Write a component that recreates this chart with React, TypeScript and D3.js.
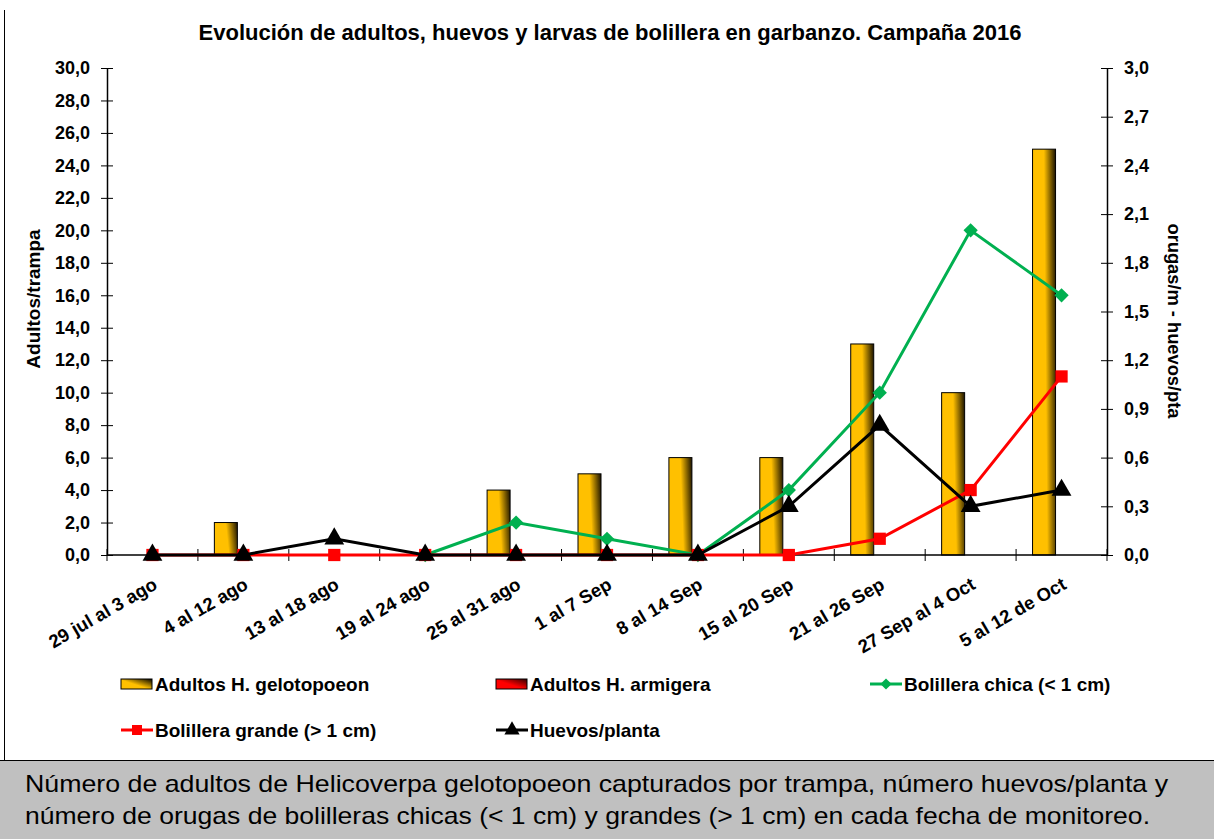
import { useRef, useEffect } from "react";
import * as d3 from "d3";

const categories = [
  "29 jul al 3 ago",
  "4 al 12 ago",
  "13 al 18 ago",
  "19 al 24 ago",
  "25 al 31 ago",
  "1 al 7 Sep",
  "8 al 14 Sep",
  "15 al 20 Sep",
  "21 al 26 Sep",
  "27 Sep al 4 Oct",
  "5 al 12 de Oct",
];

const adultosGelotopoeon = [0, 2, 0, 0, 4, 5, 6, 6, 13, 10, 25];
const adultosArmigera = [0, 0, 0, 0, 0, 0, 0, 0, 0, 0, 0];
const bolilleraChica: (number | null)[] = [null, null, null, 0, 0.2, 0.1, 0, 0.4, 1.0, 2.0, 1.6];
const bolilleraGrande = [0, 0, 0, 0, 0, 0, 0, 0, 0.1, 0.4, 1.1];
const huevosPlanta = [0, 0, 0.1, 0, 0, 0, 0, 0.3, 0.8, 0.3, 0.4];

const leftTicks = d3.range(0, 30.01, 2);
const rightTicks = d3.range(0, 3.01, 0.3);

const width = 1214;
const height = 839;
const font = "'Liberation Sans', Arial, sans-serif";

export default function App() {
  const ref = useRef<SVGSVGElement | null>(null);

  useEffect(() => {
    document.body.style.margin = "0";
    const svg = d3.select(ref.current).attr("width", width).attr("height", height);
    svg.selectAll("*").remove();

    const defs = svg.append("defs");
    const gold = defs.append("linearGradient").attr("id", "gold").attr("x1", 0).attr("y1", 0.15).attr("x2", 1).attr("y2", 0);
    gold.append("stop").attr("offset", "0").attr("stop-color", "#FFC000");
    gold.append("stop").attr("offset", "0.5").attr("stop-color", "#FFC000");
    gold.append("stop").attr("offset", "1").attr("stop-color", "#1a1200");
    const goldLeg = defs.append("linearGradient").attr("id", "goldLeg").attr("x1", 0).attr("y1", 1).attr("x2", 1).attr("y2", 0);
    goldLeg.append("stop").attr("offset", "0").attr("stop-color", "#FFC000");
    goldLeg.append("stop").attr("offset", "0.45").attr("stop-color", "#FFC000");
    goldLeg.append("stop").attr("offset", "1").attr("stop-color", "#000");
    const redLeg = defs.append("linearGradient").attr("id", "redLeg").attr("x1", 0).attr("y1", 1).attr("x2", 1).attr("y2", 0);
    redLeg.append("stop").attr("offset", "0").attr("stop-color", "#FF0000");
    redLeg.append("stop").attr("offset", "0.45").attr("stop-color", "#FF0000");
    redLeg.append("stop").attr("offset", "1").attr("stop-color", "#300");

    // frame and caption box
    svg.append("rect").attr("x", 0).attr("y", 0).attr("width", width).attr("height", height).attr("fill", "#fff");
    svg.append("line").attr("x1", 4.5).attr("x2", 4.5).attr("y1", 10).attr("y2", 760).attr("stroke", "#000");
    svg.append("rect").attr("x", 0).attr("y", 760).attr("width", width).attr("height", height - 760).attr("fill", "#c0c0c0");
    svg.append("line").attr("x1", 0).attr("x2", width).attr("y1", 760.5).attr("y2", 760.5).attr("stroke", "#000");

    const x = d3.scaleBand<string>().domain(categories).range([107, 1107]).paddingInner(0);
    const bw = x.bandwidth();
    const xs = d3.scaleBand<string>().domain(["g", "a"]).range([bw / 2 - 29, bw / 2 + 17]);
    const yL = d3.scaleLinear().domain([0, 30]).range([555, 68]);
    const yR = d3.scaleLinear().domain([0, 3]).range([555, 68]);
    const cx = (c: string) => (x(c) as number) + bw / 2;
    const fmt = (v: number) => d3.format(".1f")(v).replace(".", ",");

    // title
    svg.append("text").attr("x", 610).attr("y", 40).attr("text-anchor", "middle")
      .attr("font-family", font).attr("font-weight", "bold").attr("font-size", 22)
      .text("Evolución de adultos, huevos y larvas de bolillera en garbanzo. Campaña 2016");

    // bars
    const barData = (vals: number[], key: string) =>
      categories.map((c, i) => ({ c, v: vals[i], key })).filter((d) => d.v > 0);
    svg.append("g").selectAll("rect")
      .data([...barData(adultosGelotopoeon, "g"), ...barData(adultosArmigera, "a")])
      .join("rect")
      .attr("x", (d) => (x(d.c) as number) + (xs(d.key) as number))
      .attr("width", xs.bandwidth())
      .attr("y", (d) => yL(d.v))
      .attr("height", (d) => yL(0) - yL(d.v))
      .attr("fill", (d) => (d.key === "g" ? "url(#gold)" : "url(#redLeg)"))
      .attr("stroke", "#000").attr("stroke-width", 1);

    // axes
    const axL = svg.append("g").attr("transform", "translate(107,0)")
      .call(d3.axisLeft(yL).tickValues(leftTicks).tickFormat((d) => fmt(+d)).tickSizeInner(6).tickSizeOuter(0));
    axL.selectAll(".tick line").attr("x1", 6);
    const axR = svg.append("g").attr("transform", "translate(1107,0)")
      .call(d3.axisRight(yR).tickValues(rightTicks).tickFormat((d) => fmt(+d)).tickSizeInner(6).tickSizeOuter(0));
    axR.selectAll(".tick line").attr("x1", -6);
    const boundaries = d3.range(categories.length + 1).map((i) => 107 + i * bw);
    const axB = svg.append("g").attr("transform", "translate(0,555)");
    axB.append("line").attr("x1", 107).attr("x2", 1107).attr("stroke", "#000").attr("stroke-width", 1.5);
    axB.selectAll("line.t").data(boundaries).join("line").attr("class", "t")
      .attr("x1", (d) => d).attr("x2", (d) => d).attr("y1", -6).attr("y2", 6).attr("stroke", "#000");
    [axL, axR].forEach((a) => {
      a.select(".domain").attr("stroke", "#000").attr("stroke-width", 1.5);
      a.selectAll(".tick line").attr("stroke", "#000");
      a.selectAll("text").attr("font-family", font).attr("font-weight", "bold").attr("font-size", 18).attr("fill", "#000");
    });
    axL.selectAll("text").attr("x", -17);
    axR.selectAll("text").attr("x", 17);

    // x labels
    svg.append("g").selectAll("text").data(categories).join("text")
      .attr("transform", (c) => `translate(${cx(c) + 6},${588}) rotate(-30)`)
      .attr("text-anchor", "end")
      .attr("font-family", font).attr("font-weight", "bold").attr("font-size", 18.5)
      .text((c) => c);

    // axis titles
    svg.append("text").attr("transform", "translate(40,299) rotate(-90)").attr("text-anchor", "middle")
      .attr("font-family", font).attr("font-weight", "bold").attr("font-size", 19).text("Adultos/trampa");
    svg.append("text").attr("transform", "translate(1168,321) rotate(90)").attr("text-anchor", "middle")
      .attr("font-family", font).attr("font-weight", "bold").attr("font-size", 18.3).text("orugas/m - huevos/pta");

    // lines
    const seriesLines = [
      { data: bolilleraChica, color: "#00B050", shape: d3.symbolDiamond2, size: 130 },
      { data: bolilleraGrande, color: "#FF0000", shape: d3.symbolSquare, size: 150 },
      { data: huevosPlanta, color: "#000000", shape: d3.symbolTriangle, size: 170 },
    ];
    seriesLines.forEach((s) => {
      const pts = categories.map((c, i) => ({ c, v: s.data[i] }));
      const line = d3.line<{ c: string; v: number | null }>()
        .defined((d) => d.v != null)
        .x((d) => cx(d.c)).y((d) => yR(d.v as number));
      svg.append("path").datum(pts).attr("fill", "none").attr("stroke", s.color).attr("stroke-width", 3).attr("d", line);
      svg.append("g").selectAll("path").data(pts.filter((d) => d.v != null)).join("path")
        .attr("transform", (d) => `translate(${cx(d.c)},${yR(d.v as number)})`)
        .attr("d", d3.symbol().type(s.shape).size(s.size)()).attr("fill", s.color);
    });

    // legend
    const leg = svg.append("g").attr("font-family", font).attr("font-weight", "bold").attr("font-size", 19);
    const legendItems = [
      { label: "Adultos H. gelotopoeon", kind: "bar", fill: "url(#goldLeg)", x: 121, y: 684 },
      { label: "Adultos H. armigera", kind: "bar", fill: "url(#redLeg)", x: 496, y: 684 },
      { label: "Bolillera chica (< 1 cm)", kind: "line", color: "#00B050", shape: d3.symbolDiamond2, size: 80, x: 870, y: 684 },
      { label: "Bolillera grande (> 1 cm)", kind: "line", color: "#FF0000", shape: d3.symbolSquare, size: 100, x: 121, y: 730 },
      { label: "Huevos/planta", kind: "line", color: "#000", shape: d3.symbolTriangle, size: 100, x: 496, y: 730 },
    ];
    legendItems.forEach((it: any) => {
      if (it.kind === "bar") {
        leg.append("rect").attr("x", it.x).attr("y", it.y - 5).attr("width", 31).attr("height", 10)
          .attr("fill", it.fill).attr("stroke", "#000");
      } else {
        leg.append("line").attr("x1", it.x).attr("x2", it.x + 32).attr("y1", it.y).attr("y2", it.y)
          .attr("stroke", it.color).attr("stroke-width", 3);
        leg.append("path").attr("transform", `translate(${it.x + 16},${it.y})`)
          .attr("d", d3.symbol().type(it.shape).size(it.size)()).attr("fill", it.color);
      }
      leg.append("text").attr("x", it.x + 34).attr("y", it.y + 7).text(it.label);
    });

    // caption
    const cap = svg.append("g").attr("font-family", font).attr("font-size", 24).attr("fill", "#000");
    cap.append("text").attr("x", 25).attr("y", 792).attr("textLength", 1143).attr("lengthAdjust", "spacingAndGlyphs")
      .text("Número de adultos de Helicoverpa gelotopoeon capturados por trampa,  número huevos/planta y");
    cap.append("text").attr("x", 25).attr("y", 824).attr("textLength", 1125).attr("lengthAdjust", "spacingAndGlyphs")
      .text("número de orugas de bolilleras chicas (< 1 cm) y grandes (> 1 cm) en cada fecha de monitoreo.");
  }, []);

  return <svg ref={ref} style={{ display: "block" }} />;
}
